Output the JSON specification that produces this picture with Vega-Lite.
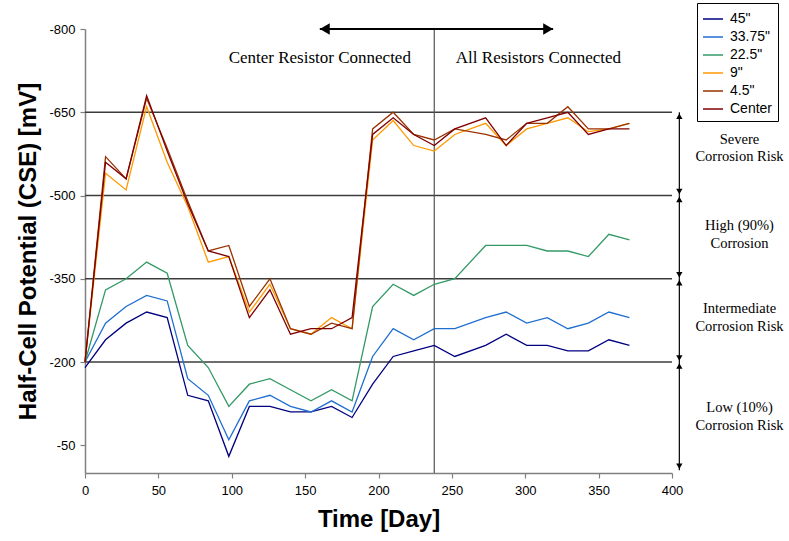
{
  "$schema": "https://vega.github.io/schema/vega-lite/v6.json",
  "width": 587,
  "height": 444,
  "autosize": {"type": "none"},
  "padding": {"left": 85, "top": 29, "right": 117, "bottom": 68},
  "background": "white",
  "config": {"view": {"stroke": null}, "font": "Liberation Sans"},
  "datasets": {
    "grid": [
      {"day": 0, "day2": 400, "mV": -650},
      {"day": 0, "day2": 400, "mV": -500},
      {"day": 0, "day2": 400, "mV": -350},
      {"day": 0, "day2": 400, "mV": -200}
    ],
    "vline": [{"day": 238, "mV": -800, "mV2": 0}],
    "harrow": [{"day": 160, "day2": 319, "mV": -800}],
    "hheadL": [{"day": 160, "mV": -800}],
    "hheadR": [{"day": 319, "mV": -800}],
    "varrows": [
      {"day": 405, "mV": -650, "mV2": -500},
      {"day": 405, "mV": -500, "mV2": -350},
      {"day": 405, "mV": -350, "mV2": -200},
      {"day": 405, "mV": -200, "mV2": -5}
    ],
    "vheadUp": [
      {"day": 405, "mV": -650},
      {"day": 405, "mV": -500},
      {"day": 405, "mV": -350},
      {"day": 405, "mV": -200}
    ],
    "vheadDown": [
      {"day": 405, "mV": -500},
      {"day": 405, "mV": -350},
      {"day": 405, "mV": -200},
      {"day": 405, "mV": -5}
    ],
    "toplabels": [
      {"day": 160, "mV": -748, "t": "Center Resistor Connected"},
      {"day": 309, "mV": -748, "t": "All Resistors Connected"}
    ],
    "risklabels": [
      {"day": 446, "mV": -600, "t": "Severe"},
      {"day": 446, "mV": -569, "t": "Corrosion Risk"},
      {"day": 446, "mV": -445, "t": "High (90%)"},
      {"day": 446, "mV": -413, "t": "Corrosion"},
      {"day": 446, "mV": -295, "t": "Intermediate"},
      {"day": 446, "mV": -263, "t": "Corrosion Risk"},
      {"day": 446, "mV": -117, "t": "Low (10%)"},
      {"day": 446, "mV": -85, "t": "Corrosion Risk"}
    ],
    "series": [
      {"s":"45\"","day":0,"mV":-190},{"s":"45\"","day":14,"mV":-240},{"s":"45\"","day":28,"mV":-270},{"s":"45\"","day":42,"mV":-290},{"s":"45\"","day":56,"mV":-280},{"s":"45\"","day":70,"mV":-140},{"s":"45\"","day":84,"mV":-130},{"s":"45\"","day":98,"mV":-30},{"s":"45\"","day":112,"mV":-120},{"s":"45\"","day":126,"mV":-120},{"s":"45\"","day":140,"mV":-110},{"s":"45\"","day":154,"mV":-110},{"s":"45\"","day":168,"mV":-120},{"s":"45\"","day":182,"mV":-100},{"s":"45\"","day":196,"mV":-160},{"s":"45\"","day":210,"mV":-210},{"s":"45\"","day":224,"mV":-220},{"s":"45\"","day":238,"mV":-230},{"s":"45\"","day":252,"mV":-210},{"s":"45\"","day":273,"mV":-230},{"s":"45\"","day":287,"mV":-250},{"s":"45\"","day":301,"mV":-230},{"s":"45\"","day":315,"mV":-230},{"s":"45\"","day":329,"mV":-220},{"s":"45\"","day":343,"mV":-220},{"s":"45\"","day":357,"mV":-240},{"s":"45\"","day":371,"mV":-230},
      {"s":"33.75\"","day":0,"mV":-200},{"s":"33.75\"","day":14,"mV":-270},{"s":"33.75\"","day":28,"mV":-300},{"s":"33.75\"","day":42,"mV":-320},{"s":"33.75\"","day":56,"mV":-310},{"s":"33.75\"","day":70,"mV":-170},{"s":"33.75\"","day":84,"mV":-140},{"s":"33.75\"","day":98,"mV":-60},{"s":"33.75\"","day":112,"mV":-130},{"s":"33.75\"","day":126,"mV":-140},{"s":"33.75\"","day":140,"mV":-120},{"s":"33.75\"","day":154,"mV":-110},{"s":"33.75\"","day":168,"mV":-130},{"s":"33.75\"","day":182,"mV":-110},{"s":"33.75\"","day":196,"mV":-210},{"s":"33.75\"","day":210,"mV":-260},{"s":"33.75\"","day":224,"mV":-240},{"s":"33.75\"","day":238,"mV":-260},{"s":"33.75\"","day":252,"mV":-260},{"s":"33.75\"","day":273,"mV":-280},{"s":"33.75\"","day":287,"mV":-290},{"s":"33.75\"","day":301,"mV":-270},{"s":"33.75\"","day":315,"mV":-280},{"s":"33.75\"","day":329,"mV":-260},{"s":"33.75\"","day":343,"mV":-270},{"s":"33.75\"","day":357,"mV":-290},{"s":"33.75\"","day":371,"mV":-280},
      {"s":"22.5\"","day":0,"mV":-200},{"s":"22.5\"","day":14,"mV":-330},{"s":"22.5\"","day":28,"mV":-350},{"s":"22.5\"","day":42,"mV":-380},{"s":"22.5\"","day":56,"mV":-360},{"s":"22.5\"","day":70,"mV":-230},{"s":"22.5\"","day":84,"mV":-190},{"s":"22.5\"","day":98,"mV":-120},{"s":"22.5\"","day":112,"mV":-160},{"s":"22.5\"","day":126,"mV":-170},{"s":"22.5\"","day":140,"mV":-150},{"s":"22.5\"","day":154,"mV":-130},{"s":"22.5\"","day":168,"mV":-150},{"s":"22.5\"","day":182,"mV":-130},{"s":"22.5\"","day":196,"mV":-300},{"s":"22.5\"","day":210,"mV":-340},{"s":"22.5\"","day":224,"mV":-320},{"s":"22.5\"","day":238,"mV":-340},{"s":"22.5\"","day":252,"mV":-350},{"s":"22.5\"","day":273,"mV":-410},{"s":"22.5\"","day":287,"mV":-410},{"s":"22.5\"","day":301,"mV":-410},{"s":"22.5\"","day":315,"mV":-400},{"s":"22.5\"","day":329,"mV":-400},{"s":"22.5\"","day":343,"mV":-390},{"s":"22.5\"","day":357,"mV":-430},{"s":"22.5\"","day":371,"mV":-420},
      {"s":"9\"","day":0,"mV":-200},{"s":"9\"","day":14,"mV":-540},{"s":"9\"","day":28,"mV":-510},{"s":"9\"","day":42,"mV":-660},{"s":"9\"","day":56,"mV":-560},{"s":"9\"","day":70,"mV":-480},{"s":"9\"","day":84,"mV":-380},{"s":"9\"","day":98,"mV":-390},{"s":"9\"","day":112,"mV":-290},{"s":"9\"","day":126,"mV":-340},{"s":"9\"","day":140,"mV":-260},{"s":"9\"","day":154,"mV":-250},{"s":"9\"","day":168,"mV":-280},{"s":"9\"","day":182,"mV":-260},{"s":"9\"","day":196,"mV":-600},{"s":"9\"","day":210,"mV":-635},{"s":"9\"","day":224,"mV":-590},{"s":"9\"","day":238,"mV":-580},{"s":"9\"","day":252,"mV":-610},{"s":"9\"","day":273,"mV":-630},{"s":"9\"","day":287,"mV":-590},{"s":"9\"","day":301,"mV":-620},{"s":"9\"","day":315,"mV":-630},{"s":"9\"","day":329,"mV":-640},{"s":"9\"","day":343,"mV":-615},{"s":"9\"","day":357,"mV":-620},{"s":"9\"","day":371,"mV":-630},
      {"s":"4.5\"","day":0,"mV":-200},{"s":"4.5\"","day":14,"mV":-570},{"s":"4.5\"","day":28,"mV":-530},{"s":"4.5\"","day":42,"mV":-675},{"s":"4.5\"","day":56,"mV":-585},{"s":"4.5\"","day":70,"mV":-490},{"s":"4.5\"","day":84,"mV":-400},{"s":"4.5\"","day":98,"mV":-410},{"s":"4.5\"","day":112,"mV":-300},{"s":"4.5\"","day":126,"mV":-350},{"s":"4.5\"","day":140,"mV":-260},{"s":"4.5\"","day":154,"mV":-250},{"s":"4.5\"","day":168,"mV":-270},{"s":"4.5\"","day":182,"mV":-260},{"s":"4.5\"","day":196,"mV":-620},{"s":"4.5\"","day":210,"mV":-650},{"s":"4.5\"","day":224,"mV":-610},{"s":"4.5\"","day":238,"mV":-600},{"s":"4.5\"","day":252,"mV":-620},{"s":"4.5\"","day":273,"mV":-610},{"s":"4.5\"","day":287,"mV":-600},{"s":"4.5\"","day":301,"mV":-630},{"s":"4.5\"","day":315,"mV":-630},{"s":"4.5\"","day":329,"mV":-660},{"s":"4.5\"","day":343,"mV":-620},{"s":"4.5\"","day":357,"mV":-620},{"s":"4.5\"","day":371,"mV":-630},
      {"s":"Center","day":0,"mV":-200},{"s":"Center","day":14,"mV":-560},{"s":"Center","day":28,"mV":-530},{"s":"Center","day":42,"mV":-680},{"s":"Center","day":56,"mV":-580},{"s":"Center","day":70,"mV":-485},{"s":"Center","day":84,"mV":-400},{"s":"Center","day":98,"mV":-390},{"s":"Center","day":112,"mV":-280},{"s":"Center","day":126,"mV":-330},{"s":"Center","day":140,"mV":-250},{"s":"Center","day":154,"mV":-260},{"s":"Center","day":168,"mV":-260},{"s":"Center","day":182,"mV":-280},{"s":"Center","day":196,"mV":-610},{"s":"Center","day":210,"mV":-640},{"s":"Center","day":224,"mV":-610},{"s":"Center","day":238,"mV":-590},{"s":"Center","day":252,"mV":-620},{"s":"Center","day":273,"mV":-640},{"s":"Center","day":287,"mV":-590},{"s":"Center","day":301,"mV":-630},{"s":"Center","day":315,"mV":-640},{"s":"Center","day":329,"mV":-650},{"s":"Center","day":343,"mV":-610},{"s":"Center","day":357,"mV":-620},{"s":"Center","day":371,"mV":-620}
    ]
  },
  "encoding": {
    "x": {
      "field": "day", "type": "quantitative",
      "scale": {"domain": [0, 400], "nice": false, "zero": false},
      "axis": {
        "values": [0, 50, 100, 150, 200, 250, 300, 350, 400],
        "title": "Time [Day]", "grid": false,
        "labelFont": "Liberation Sans", "labelFontSize": 13, "labelColor": "black",
        "labelPadding": 6, "labelFlush": false,
        "domainColor": "#808080", "domainWidth": 1.5,
        "tickColor": "#808080", "tickSize": 5, "tickWidth": 1.2,
        "titleFont": "Liberation Sans", "titleFontSize": 24, "titleFontWeight": "bold",
        "titleColor": "black", "titlePadding": 10
      }
    },
    "y": {
      "field": "mV", "type": "quantitative",
      "scale": {"domain": [-800, 0], "nice": false, "zero": false, "reverse": true},
      "axis": {
        "values": [-800, -650, -500, -350, -200, -50],
        "labelExpr": "'-' + format(-datum.value, 'd')",
        "title": "Half-Cell Potential (CSE) [mV]", "grid": false,
        "labelFont": "Liberation Sans", "labelFontSize": 13, "labelColor": "black",
        "labelPadding": 5,
        "domainColor": "#808080", "domainWidth": 1.5,
        "tickColor": "#808080", "tickSize": 5, "tickWidth": 1.2,
        "titleFont": "Liberation Sans", "titleFontSize": 24, "titleFontWeight": "bold",
        "titleColor": "black", "titlePadding": 8
      }
    }
  },
  "layer": [
    {"data": {"name": "grid"}, "mark": {"type": "rule", "color": "#3c3c3c", "strokeWidth": 1.6}, "encoding": {"x2": {"field": "day2"}}},
    {"data": {"name": "vline"}, "mark": {"type": "rule", "color": "#555555", "strokeWidth": 1.2}, "encoding": {"y2": {"field": "mV2"}}},
    {
      "data": {"name": "series"},
      "mark": {"type": "line", "strokeWidth": 1.3},
      "encoding": {
        "color": {
          "field": "s", "type": "nominal",
          "scale": {
            "domain": ["45\"", "33.75\"", "22.5\"", "9\"", "4.5\"", "Center"],
            "range": ["#000080", "#1f6fd1", "#339966", "#ff9900", "#993300", "#800000"]
          },
          "legend": {
            "orient": "none", "legendX": 612, "legendY": -26, "title": null,
            "strokeColor": "black", "fillColor": "white", "padding": 5,
            "symbolType": "stroke", "symbolSize": 400, "symbolStrokeWidth": 1.5,
            "labelFont": "Liberation Sans", "labelFontSize": 14, "labelColor": "black",
            "labelOffset": 6, "rowPadding": 0
          }
        }
      }
    },
    {"data": {"name": "harrow"}, "mark": {"type": "rule", "color": "black", "strokeWidth": 1.8}, "encoding": {"x2": {"field": "day2"}}},
    {"data": {"name": "hheadL"}, "mark": {"type": "point", "shape": "triangle-left", "filled": true, "color": "black", "opacity": 1, "size": 130, "xOffset": 5}, "encoding": {}},
    {"data": {"name": "hheadR"}, "mark": {"type": "point", "shape": "triangle-right", "filled": true, "color": "black", "opacity": 1, "size": 130, "xOffset": -5}, "encoding": {}},
    {"data": {"name": "varrows"}, "mark": {"type": "rule", "color": "black", "strokeWidth": 1.2}, "encoding": {"y2": {"field": "mV2"}}},
    {"data": {"name": "vheadUp"}, "mark": {"type": "point", "shape": "triangle-up", "filled": true, "color": "black", "opacity": 1, "size": 40, "yOffset": 4}, "encoding": {}},
    {"data": {"name": "vheadDown"}, "mark": {"type": "point", "shape": "triangle-down", "filled": true, "color": "black", "opacity": 1, "size": 40, "yOffset": -4}, "encoding": {}},
    {"data": {"name": "toplabels"}, "mark": {"type": "text", "font": "Liberation Serif", "fontSize": 17, "color": "black", "align": "center", "baseline": "middle"}, "encoding": {"text": {"field": "t"}}},
    {"data": {"name": "risklabels"}, "mark": {"type": "text", "font": "Liberation Serif", "fontSize": 14.5, "color": "black", "align": "center", "baseline": "middle"}, "encoding": {"text": {"field": "t"}}}
  ]
}
